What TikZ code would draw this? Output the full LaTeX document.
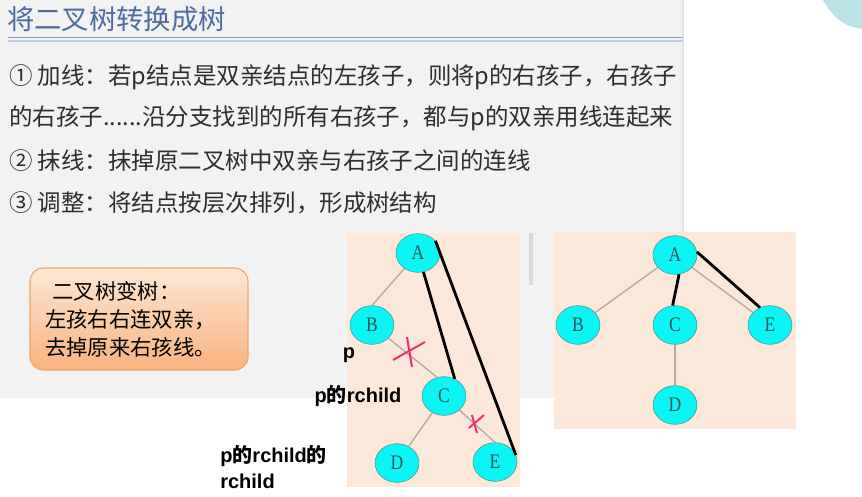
\documentclass[tikz,border=0pt]{standalone}
\usepackage{fontspec}
\setmainfont{Liberation Serif}
\newfontfamily\cjk{Noto Sans CJK SC}
\newfontfamily\lab{Liberation Sans}
\newfontfamily\letterfont[FakeStretch=0.85]{Liberation Serif}
\usepackage{tikz}
\usetikzlibrary{positioning, shapes.geometric}
\definecolor{pageGrey}{HTML}{F2F2F2}
\definecolor{titleBlue}{HTML}{4E6C9E}
\definecolor{ruleBlue}{HTML}{8AA5CC}
\definecolor{textDark}{HTML}{2E2E2E}
\definecolor{panelPeach}{HTML}{FCE8DA}
\definecolor{nodeCyan}{HTML}{0CF5F5}
\definecolor{nodeEdge}{HTML}{4E9096}
\definecolor{nodeText}{HTML}{2F5558}
\definecolor{edgeGrey}{HTML}{B3AAA3}
\definecolor{crossRed}{HTML}{F0306A}
\definecolor{boxTop}{HTML}{FDE7D4}
\definecolor{boxBottom}{HTML}{F8B27E}
\definecolor{boxEdge}{HTML}{EDA66A}
\definecolor{blobTeal}{HTML}{BCE2E5}
\definecolor{barGrey}{HTML}{D9D9D9}

\tikzset{
  treenode/.style={ellipse, draw=nodeEdge, fill=nodeCyan, minimum width=33pt,
    minimum height=29pt, inner sep=0pt, text=nodeText,
    font=\letterfont\fontsize{15.5pt}{17pt}\selectfont},
  treeline/.style={draw=edgeGrey, line width=1pt},
  addline/.style={draw=black, line width=2.1pt},
  cutmark/.style={draw=crossRed, line width=1.5pt},
  ruleline/.style={anchor=west, inner sep=0pt, text=textDark,
    font=\cjk\fontsize{17.6pt}{22pt}\selectfont},
  tag/.style={inner sep=0pt, font=\lab\bfseries\fontsize{15pt}{19pt}\selectfont}
}

\begin{document}
\begin{tikzpicture}[x=0.75pt, y=-0.75pt, font=\cjk]
  \useasboundingbox (0,0) rectangle (862,496);
  \fill[pageGrey] (0,0) rectangle (683,398);
  \draw[barGrey!70, line width=0.8pt] (683,0) -- (683,398);
  \fill[blobTeal] (823,0) .. controls (833,18) and (845,27) .. (862,29) -- (862,0) -- cycle;

  \node[anchor=west, inner sep=0pt, text=titleBlue,
        font=\cjk\fontsize{20.5pt}{24pt}\selectfont] (title) at (7,19) {将二叉树转换成树};
  \draw[ruleBlue, line width=1pt] (8,37.5) -- (683,37.5);
  \draw[ruleBlue!55, line width=0.8pt] (8,41) -- (683,41);

  \node[ruleline] (addrule) at (9,77) {① 加线：若p结点是双亲结点的左孩子，则将p的右孩子，右孩子};
  \node[ruleline] (addmore) at (9,118) {的右孩子......沿分支找到的所有右孩子，都与p的双亲用线连起来};
  \node[ruleline] (cutrule) at (9,161) {② 抹线：抹掉原二叉树中双亲与右孩子之间的连线};
  \node[ruleline] (fixrule) at (9,203) {③ 调整：将结点按层次排列，形成树结构};

  \node[draw=boxEdge, line width=0.8pt, rounded corners=10pt, top color=boxTop,
        bottom color=boxBottom, text width=141pt, inner xsep=11.25pt,
        minimum height=76.5pt, align=left, text=black,
        font=\cjk\fontsize{16pt}{21pt}\selectfont] (memo) at (139,319)
        {\hspace{0.35em}二叉树变树：\\左孩右右连双亲，\\去掉原来右孩线。};

  \fill[panelPeach] (347,233) rectangle (520,487);
  \fill[barGrey] (529,233) rectangle (533,285);
  \fill[panelPeach] (554,232) rectangle (796,429);

  % binary tree
  \node[treenode] (lA) at (418,253) {A};
  \node[treenode] (lB) at (372,325) {B};
  \node[treenode] (lC) at (444,396) {C};
  \node[treenode] (lD) at (397,463) {D};
  \node[treenode] (lE) at (495,462) {E};
  \draw[treeline] (lA) -- (lB.north);
  \draw[treeline] (lB) -- (lC.110);
  \draw[treeline] (lC) -- (lD);
  \draw[treeline] (lC) -- (lE.north);
  \draw[cutmark] (393,360) -- (425,342);
  \draw[cutmark] (407,337) -- (412,367);
  \draw[cutmark] (469,428) -- (484,415);
  \draw[cutmark] (472,415) -- (477,433);
  \draw[addline] (lA.-74) -- (lC.58);
  \draw[addline] (lA.35) -- (lE.18);

  % resulting tree
  \node[treenode] (rA) at (675,255) {A};
  \node[treenode] (rB) at (578,325) {B};
  \node[treenode] (rC) at (675,325) {C};
  \node[treenode] (rE) at (770,325) {E};
  \node[treenode] (rD) at (675,405) {D};
  \draw[treeline] (rA) -- (rB);
  \draw[treeline] (rA) -- (rE);
  \draw[treeline] (rC) -- (rD);
  \draw[addline] (rA.-78) -- (rC.97);
  \draw[addline] (rA.8) -- (rE.120);

  \node[tag] (plab) at (349,355) {p};
  \node[tag] (prc) at (358,396) {p{\cjk\bfseries 的}rchild};
  \node[tag, anchor=west, align=left] (prcrc) at (220,467) {p{\cjk\bfseries 的}rchild{\cjk\bfseries 的}\\rchild};
\end{tikzpicture}
\end{document}
